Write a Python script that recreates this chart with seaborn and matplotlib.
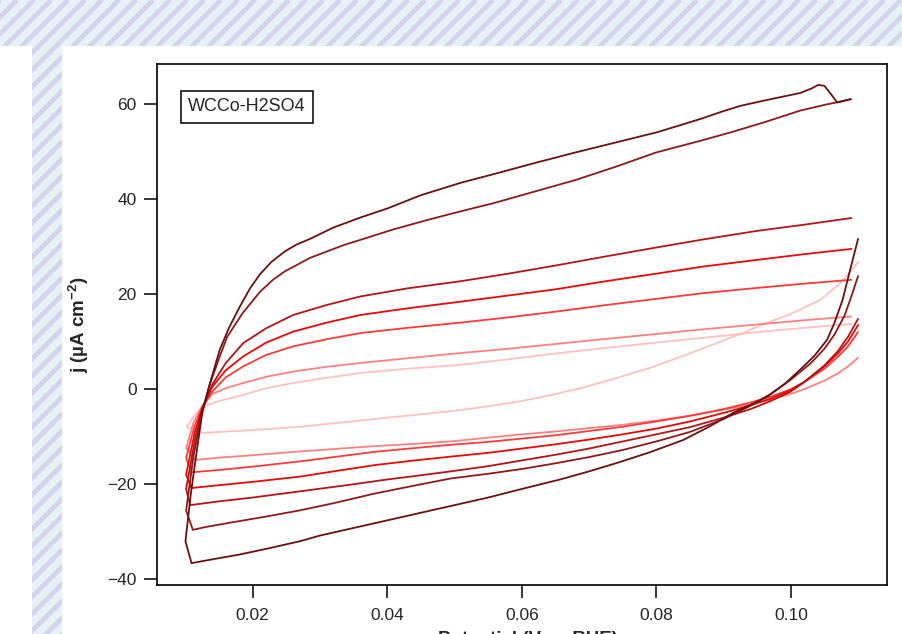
import matplotlib
matplotlib.use("Agg")
import matplotlib.pyplot as plt
import matplotlib.ticker as ticker
from matplotlib.patches import Rectangle
import seaborn as sns

# --- data: each loop = cathodic branch (right -> left), vertex, anodic branch (left -> right)
x1 = [0.1100, 0.1088, 0.1077, 0.1065, 0.1054, 0.1035, 0.1014, 0.0990, 0.0965, 0.0940, 0.0914, 0.0880,
      0.0840, 0.0790, 0.0742, 0.0700, 0.0657, 0.0600, 0.0550, 0.0500, 0.0450, 0.0400, 0.0350, 0.0300,
      0.0270, 0.0220, 0.0180, 0.0140, 0.0109,
      0.0100,
      0.0108, 0.0117, 0.0125, 0.0137, 0.0151, 0.0165, 0.0181, 0.0196, 0.0211, 0.0228, 0.0248, 0.0265,
      0.0285, 0.0320, 0.0360, 0.0400, 0.0450, 0.0509, 0.0560, 0.0620, 0.0680, 0.0740, 0.0800, 0.0835,
      0.0867, 0.0900, 0.0925, 0.0970, 0.1014, 0.1030, 0.1041, 0.1050, 0.1060, 0.1069, 0.1088]
j1 = [31.6, 25.0, 18.8, 14.0, 10.4, 7.0, 4.1, 1.0, -1.6, -3.3, -5.0, -7.8,
      -10.7, -13.3, -15.5, -17.3, -19.0, -21.0, -22.8, -24.4, -26.0, -27.6, -29.2, -30.8,
      -32.0, -33.6, -34.8, -35.8, -36.6,
      -32.0,
      -22.0, -12.8, -5.0, 1.5, 8.3, 13.0, 17.4, 21.2, 24.2, 26.8, 29.0, 30.4,
      31.6, 34.0, 36.1, 38.0, 40.8, 43.4, 45.3, 47.6, 49.8, 51.9, 54.0, 55.5,
      56.9, 58.5, 59.6, 61.0, 62.3, 63.2, 64.0, 63.8, 62.0, 60.3, 61.0]

x2 = [0.1100, 0.1090, 0.1080, 0.1065, 0.1050, 0.1030, 0.1000, 0.0970, 0.0940, 0.0900, 0.0850, 0.0800,
      0.0750, 0.0700, 0.0650, 0.0600, 0.0550, 0.0494, 0.0440, 0.0380, 0.0320, 0.0270, 0.0220, 0.0170,
      0.0130, 0.0111,
      0.0101,
      0.0112, 0.0125, 0.0135, 0.0150, 0.0162, 0.0185, 0.0211, 0.0230, 0.0248, 0.0285, 0.0335, 0.0360,
      0.0409, 0.0460, 0.0509, 0.0560, 0.0620, 0.0680, 0.0740, 0.0800, 0.0867, 0.0915, 0.0964, 0.1014,
      0.1050, 0.1074, 0.1090]
j2 = [23.8, 19.5, 15.5, 11.5, 8.5, 5.5, 2.0, -1.0, -3.5, -6.3, -9.0, -11.0,
      -12.8, -14.3, -15.6, -16.8, -17.8, -18.8, -20.3, -22.0, -24.0, -25.5, -26.8, -28.0,
      -29.0, -29.6,
      -25.5,
      -14.0, -4.5, 0.5, 6.5, 11.0, 16.0, 20.5, 23.0, 24.8, 27.6, 30.3, 31.4,
      33.6, 35.6, 37.4, 39.2, 41.6, 44.0, 46.8, 49.8, 52.3, 54.2, 56.3, 58.6,
      59.8, 60.5, 61.0]

x3 = [0.1100, 0.1085, 0.1070, 0.1050, 0.1020, 0.1000, 0.0970, 0.0940, 0.0900, 0.0850, 0.0800, 0.0750,
      0.0700, 0.0650, 0.0600, 0.0550, 0.0494, 0.0440, 0.0400, 0.0340, 0.0270, 0.0200, 0.0150, 0.0107,
      0.0101,
      0.0115, 0.0125, 0.0140, 0.0160, 0.0186, 0.0220, 0.0260, 0.0310, 0.0360, 0.0430, 0.0509, 0.0580,
      0.0650, 0.0720, 0.0800, 0.0870, 0.0950, 0.1020, 0.1090]
j3 = [14.8, 11.0, 8.0, 5.0, 1.5, -0.5, -2.5, -4.2, -6.0, -8.0, -9.5, -11.0,
      -12.5, -13.8, -15.0, -16.2, -17.3, -18.3, -19.0, -20.2, -21.5, -22.8, -23.6, -24.4,
      -21.0,
      -10.0, -4.2, 1.0, 5.5, 9.7, 12.8, 15.6, 17.7, 19.5, 21.2, 22.7, 24.3,
      26.0, 27.8, 29.8, 31.5, 33.3, 34.6, 36.0]

x4 = [0.1100, 0.1085, 0.1070, 0.1050, 0.1020, 0.1000, 0.0970, 0.0940, 0.0900, 0.0850, 0.0800, 0.0750,
      0.0700, 0.0650, 0.0600, 0.0550, 0.0494, 0.0440, 0.0380, 0.0320, 0.0270, 0.0200, 0.0150, 0.0109,
      0.0101,
      0.0114, 0.0125, 0.0140, 0.0160, 0.0186, 0.0220, 0.0260, 0.0310, 0.0360, 0.0430, 0.0509, 0.0580,
      0.0650, 0.0720, 0.0800, 0.0870, 0.0950, 0.1020, 0.1090]
j4 = [13.5, 10.0, 7.5, 4.8, 1.5, -0.2, -2.0, -3.4, -5.0, -6.8, -8.3, -9.5,
      -10.6, -11.6, -12.5, -13.4, -14.2, -15.0, -16.0, -17.3, -18.4, -19.5, -20.2, -20.8,
      -18.0,
      -9.0, -4.0, 0.5, 4.0, 6.9, 9.8, 12.1, 14.0, 15.6, 17.0, 18.4, 19.7,
      21.0, 22.6, 24.3, 25.8, 27.2, 28.4, 29.5]

x5 = [0.1100, 0.1085, 0.1070, 0.1050, 0.1020, 0.1000, 0.0970, 0.0940, 0.0900, 0.0850, 0.0800, 0.0750,
      0.0700, 0.0650, 0.0600, 0.0550, 0.0494, 0.0440, 0.0380, 0.0320, 0.0270, 0.0200, 0.0150, 0.0109,
      0.0101,
      0.0113, 0.0125, 0.0140, 0.0160, 0.0186, 0.0220, 0.0260, 0.0310, 0.0360, 0.0430, 0.0509, 0.0580,
      0.0650, 0.0720, 0.0800, 0.0870, 0.0950, 0.1020, 0.1090]
j5 = [12.0, 9.0, 6.8, 4.3, 1.5, 0.0, -1.6, -2.8, -4.2, -5.6, -6.8, -7.9,
      -8.8, -9.7, -10.4, -11.1, -11.7, -12.4, -13.2, -14.3, -15.2, -16.3, -17.0, -17.5,
      -14.5,
      -8.0, -3.8, -0.5, 2.5, 4.8, 7.2, 9.0, 10.5, 11.8, 12.9, 14.0, 15.1,
      16.3, 17.6, 19.0, 20.2, 21.3, 22.2, 23.0]

x6 = [0.1100, 0.1085, 0.1070, 0.1050, 0.1020, 0.1000, 0.0970, 0.0940, 0.0900, 0.0850, 0.0800, 0.0750,
      0.0700, 0.0650, 0.0600, 0.0550, 0.0494, 0.0440, 0.0380, 0.0320, 0.0270, 0.0200, 0.0150, 0.0115,
      0.0101,
      0.0112, 0.0125, 0.0140, 0.0160, 0.0186, 0.0220, 0.0260, 0.0310, 0.0360, 0.0430, 0.0509, 0.0580,
      0.0650, 0.0720, 0.0800, 0.0870, 0.0950, 0.1020, 0.1090]
j6 = [6.6, 4.8, 3.3, 1.8, 0.0, -1.0, -2.2, -3.2, -4.3, -5.6, -6.6, -7.5,
      -8.2, -8.9, -9.5, -10.2, -11.0, -11.5, -12.0, -12.6, -13.1, -13.9, -14.4, -14.9,
      -12.4,
      -7.0, -3.5, -1.0, 0.2, 1.3, 2.6, 3.7, 4.7, 5.5, 6.5, 7.6, 8.5,
      9.5, 10.5, 11.6, 12.6, 13.6, 14.5, 15.3]

x7 = [0.1101, 0.1075, 0.1044, 0.1000, 0.0965, 0.0930, 0.0890, 0.0840, 0.0791, 0.0740, 0.0690, 0.0642,
      0.0600, 0.0550, 0.0509, 0.0450, 0.0400, 0.0340, 0.0271, 0.0200, 0.0126,
      0.0102,
      0.0115, 0.0126, 0.0150, 0.0186, 0.0220, 0.0260, 0.0310, 0.0360, 0.0430, 0.0509, 0.0580, 0.0650,
      0.0720, 0.0800, 0.0870, 0.0950, 0.1020, 0.1090]
j7 = [26.8, 22.5, 18.8, 15.8, 14.0, 11.9, 9.7, 7.0, 4.5, 2.3, 0.3, -1.3,
      -2.5, -3.6, -4.4, -5.3, -6.0, -6.9, -7.9, -8.6, -9.2,
      -8.0,
      -5.2, -3.7, -2.5, -1.2, 0.2, 1.3, 2.4, 3.4, 4.3, 5.1, 6.3, 7.5,
      8.6, 9.8, 10.8, 12.0, 12.9, 13.7]

loop_x = [x7, x6, x5, x4, x3, x2, x1]
loop_j = [j7, j6, j5, j4, j3, j2, j1]
loop_colors = ["#ffc0c0", "#ff8080", "#ff3a3a", "#e80808", "#b31515", "#8c1a1a", "#6a1010"]

x_ticks = [0.02, 0.04, 0.06, 0.08, 0.10]
y_ticks = [-40, -20, 0, 20, 40, 60]

sns.set_style("white")
plt.rcParams["font.family"] = ["Liberation Sans", "DejaVu Sans"]
plt.rcParams["mathtext.fontset"] = "custom"
plt.rcParams["mathtext.rm"] = "Liberation Sans"
plt.rcParams["mathtext.bf"] = "Liberation Sans:bold"

fig = plt.figure(figsize=(9.03, 6.34), dpi=100, facecolor="white")

# striped page background (pixel coordinates), white panels on top
bg = fig.add_axes([0, 0, 1, 1], zorder=-5)
bg.set_xlim(0, 903)
bg.set_ylim(634, 0)
bg.axis("off")
bg.add_patch(Rectangle((0, 0), 903, 634, facecolor="#e6f2f5", edgecolor="none"))
for k in range(-700, 920, 17):
    bg.plot([k, k + 700], [700, 0], color="#d3d3ee", linewidth=3.4, solid_capstyle="butt")
bg.add_patch(Rectangle((0, 46), 32, 600, facecolor="white", edgecolor="none", zorder=3))
bg.add_patch(Rectangle((62.5, 46), 850, 600, facecolor="white", edgecolor="none", zorder=3))

ax = fig.add_axes([157 / 903, 49 / 634, 730 / 903, 521 / 634])

for xs, js, c in zip(loop_x, loop_j, loop_colors):
    sns.lineplot(x=xs, y=js, sort=False, estimator=None, color=c, linewidth=1.3, ax=ax)

ax.set_xlim(0.00577, 0.1143)
ax.set_ylim(-41.2, 68.4)
ax.set_xticks(x_ticks)
ax.set_yticks(y_ticks)
ax.xaxis.set_major_formatter(ticker.FormatStrFormatter("%.2f"))
ax.tick_params(direction="out", length=9.5, width=1.1, labelsize=12.5, color="black",
               bottom=True, left=True)
ax.tick_params(axis="x", pad=7)
ax.tick_params(axis="y", pad=5)
for s in ax.spines.values():
    s.set_visible(True)
    s.set_color("black")
    s.set_linewidth(1.2)

ax.set_ylabel(r"j (µA cm$^{\mathbf{-2}}$)", fontsize=13.5, fontweight="bold", labelpad=12)
ax.set_xlabel("")
# axis title sits mostly below the visible page, as in the source screenshot
fig.text(528 / 903, 1 - 630.5 / 634, "Potential (V vs RHE)", ha="center", va="top",
         fontsize=13.5, fontweight="bold")

ax.text(0.043, 0.934, "WCCo-H2SO4", transform=ax.transAxes, fontsize=13, va="top", ha="left",
        bbox=dict(boxstyle="square,pad=0.4", facecolor="white", edgecolor="black", linewidth=1.1))

fig.savefig("out.png", dpi=100, facecolor="white")
